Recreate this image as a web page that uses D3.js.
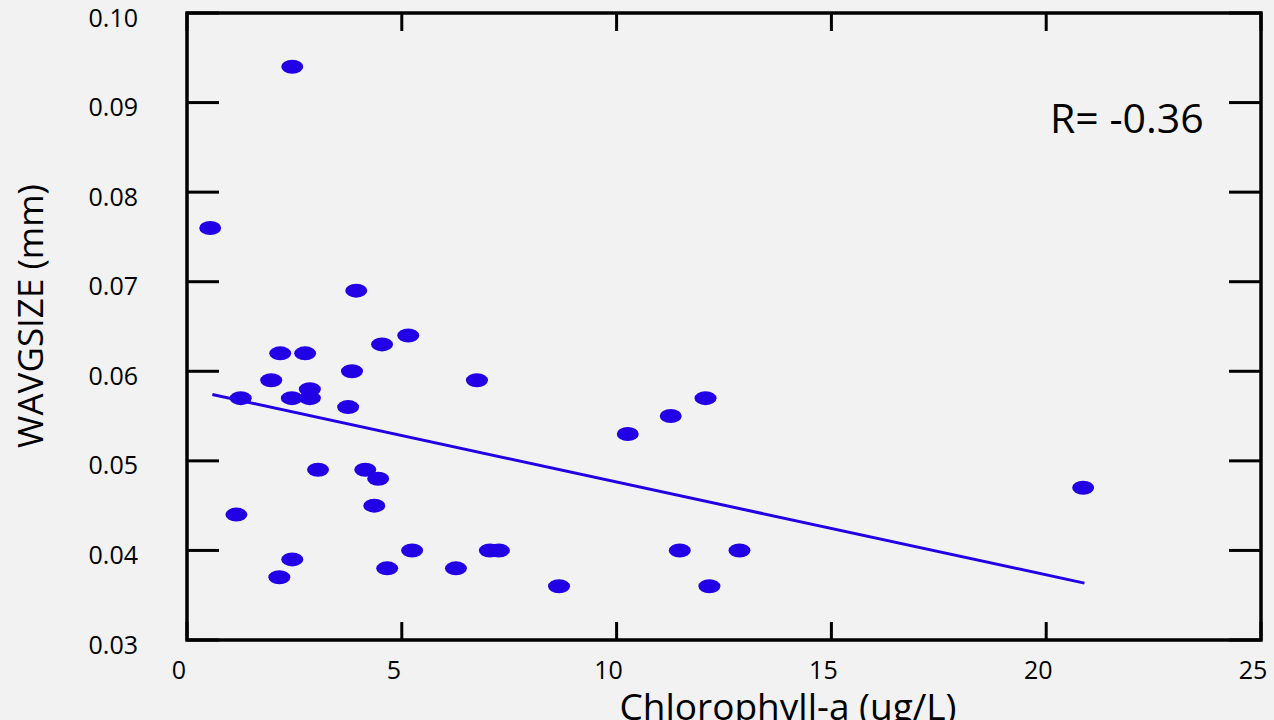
<!DOCTYPE html>
<html>
<head>
    <meta charset="utf-8">
    <title>WAVGSIZE vs Chlorophyll-a</title>
    <style>
        body { margin: 0; background: #f2f2f2; }
        svg { display: block; }
        text { font-family: "Open Sans", sans-serif; fill: #000; }
    </style>
</head>
<body>
<div id="plot"></div>
<script src="https://cdn.jsdelivr.net/npm/d3@7"></script>
<script>

    // chlorophyll-a (ug/L) and weighted average size (mm)
    let chla = [2.45, 0.54, 3.94, 5.15, 4.54, 2.17, 2.75, 3.84, 1.96, 6.75,
                2.86, 1.25, 2.44, 2.86, 3.75, 12.07, 11.26, 10.26, 3.05, 4.15,
                4.45, 20.86, 4.36, 1.15, 5.24, 7.05, 7.26, 11.47, 12.86, 2.45,
                4.66, 6.26, 2.15, 8.66, 12.16];
    let wavgsize = [0.094, 0.076, 0.069, 0.064, 0.063, 0.062, 0.062, 0.060, 0.059, 0.059,
                    0.058, 0.057, 0.057, 0.057, 0.056, 0.057, 0.055, 0.053, 0.049, 0.049,
                    0.048, 0.047, 0.045, 0.044, 0.040, 0.040, 0.040, 0.040, 0.040, 0.039,
                    0.038, 0.038, 0.037, 0.036, 0.036];

    // fitted line end points as drawn
    let fitX = [0.59, 20.89];
    let fitY = [0.0574, 0.03635];

    let xTicks = [0, 5, 10, 15, 20, 25];
    let yTicks = [0.03, 0.04, 0.05, 0.06, 0.07, 0.08, 0.09, 0.10];
    let rLabel = 'R= -0.36';

    let svgWidth = 1274;
    let svgHeight = 720;
    let margin = {top: 13, right: 13, bottom: 80, left: 187};
    let width = 1261 - margin.left;
    let height = 640 - margin.top;
    let blue = '#2200e6';

    function translate(x, y) {
        return 'translate(' + x + ', ' + y + ')';
    }

    let svg = d3.select('#plot')
        .append('svg')
        .attr('width', svgWidth)
        .attr('height', svgHeight);

    let g = svg.append('g')
        .attr('transform', translate(margin.left, margin.top));

    let x = d3.scaleLinear().domain([0, 25]).range([0, width]);
    let y = d3.scaleLinear().domain([0.03, 0.10]).range([height, 0]);

    // ticks, all pointing into the box
    let tickStyle = sel => sel.attr('stroke', '#000').attr('stroke-width', 3);

    g.append('g').selectAll('line').data(yTicks).enter().append('line')
        .attr('x1', 0).attr('x2', 32)
        .attr('y1', d => y(d)).attr('y2', d => y(d))
        .call(tickStyle);
    g.append('g').selectAll('line').data(yTicks).enter().append('line')
        .attr('x1', width - 32).attr('x2', width)
        .attr('y1', d => y(d)).attr('y2', d => y(d))
        .call(tickStyle);
    g.append('g').selectAll('line').data(xTicks).enter().append('line')
        .attr('x1', d => x(d)).attr('x2', d => x(d))
        .attr('y1', height - 18).attr('y2', height)
        .call(tickStyle);
    g.append('g').selectAll('line').data(xTicks).enter().append('line')
        .attr('x1', d => x(d)).attr('x2', d => x(d))
        .attr('y1', 0).attr('y2', 18)
        .call(tickStyle);

    g.append('rect')
        .attr('width', width)
        .attr('height', height)
        .attr('fill', 'none')
        .attr('stroke', '#000')
        .attr('stroke-width', 3.5);

    // tick labels
    g.append('g').selectAll('text').data(yTicks).enter().append('text')
        .attr('x', -49)
        .attr('y', d => y(d) + 13.5)
        .style('text-anchor', 'end')
        .style('font-size', '25px')
        .text(d => d3.format('.2f')(d));

    g.append('g').selectAll('text').data(xTicks).enter().append('text')
        .attr('x', d => x(d) - 8)
        .attr('y', height + 38.5)
        .style('text-anchor', 'middle')
        .style('font-size', '25px')
        .text(d => d);

    // axis titles
    svg.append('text')
        .attr('transform', 'rotate(-90)')
        .attr('x', -316)
        .attr('y', 43)
        .style('text-anchor', 'middle')
        .style('font-size', '35px')
        .text('WAVGSIZE (mm)');

    svg.append('text')
        .attr('x', 788)
        .attr('y', 720)
        .style('text-anchor', 'middle')
        .style('font-size', '37px')
        .text('Chlorophyll-a (ug/L)');

    svg.append('text')
        .attr('x', 1050)
        .attr('y', 133)
        .style('font-size', '41px')
        .text(rLabel);

    // regression line
    let line = d3.line()
        .x(d => x(d[0]))
        .y(d => y(d[1]));

    g.append('path')
        .datum(d3.zip(fitX, fitY))
        .attr('d', line)
        .attr('fill', 'none')
        .attr('stroke', blue)
        .attr('stroke-width', 3);

    // points
    g.append('g').selectAll('ellipse')
        .data(d3.zip(chla, wavgsize))
        .enter()
        .append('ellipse')
        .attr('cx', d => x(d[0]))
        .attr('cy', d => y(d[1]))
        .attr('rx', 11)
        .attr('ry', 7)
        .attr('fill', blue);

</script>
</body>
</html>
